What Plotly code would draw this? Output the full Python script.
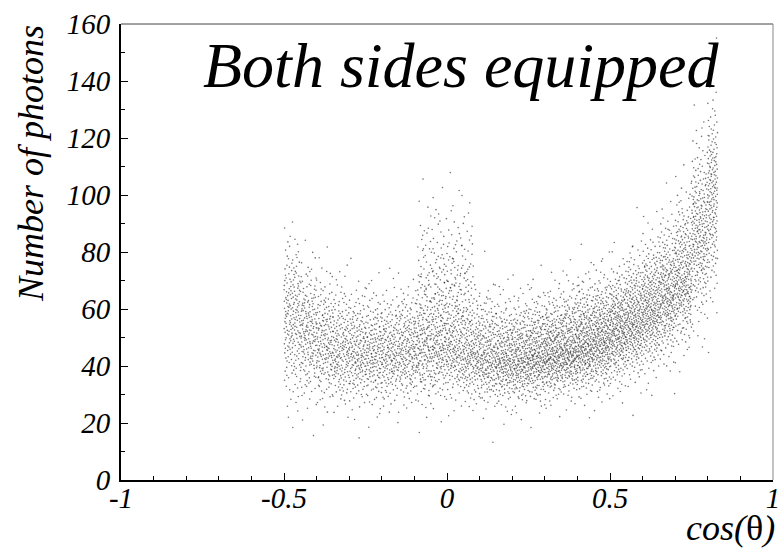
import statistics
import plotly.graph_objects as go

# Per-bin profile of the photon-count band versus cos(theta):
# bin edges, number of events, and the 5% / 50% / 95% levels of the photon count.
BIN_LO = [-0.50, -0.45, -0.40, -0.35, -0.30, -0.25, -0.20, -0.15, -0.10, -0.05,
          0.00, 0.05, 0.10, 0.15, 0.20, 0.25, 0.30, 0.35, 0.40, 0.45,
          0.50, 0.55, 0.60, 0.65, 0.70, 0.75, 0.80]
BIN_HI = [-0.45, -0.40, -0.35, -0.30, -0.25, -0.20, -0.15, -0.10, -0.05, 0.00,
          0.05, 0.10, 0.15, 0.20, 0.25, 0.30, 0.35, 0.40, 0.45, 0.50,
          0.55, 0.60, 0.65, 0.70, 0.75, 0.80, 0.83]
COUNTS = [190, 180, 175, 170, 170, 170, 170, 175, 180, 185,
          185, 190, 200, 210, 225, 240, 255, 265, 270, 270,
          270, 270, 270, 265, 265, 255, 170]
Y_LO = [33, 32, 31, 30, 30, 30, 30, 31, 31, 32,
        32, 31, 30, 30, 30, 31, 32, 33, 34, 35,
        37, 40, 43, 47, 52, 62, 70]
Y_MED = [57, 52, 48, 46, 45, 45, 45, 46, 47, 48,
         47, 45, 44, 43, 43, 44, 45, 46, 48, 50,
         53, 56, 60, 65, 71, 86, 100]
Y_HI = [80, 72, 68, 65, 63, 62, 62, 63, 65, 68,
        67, 64, 62, 60, 60, 61, 62, 64, 66, 68,
        70, 75, 80, 86, 95, 112, 128]

# Secondary population forming the bump near cos(theta) = 0
BUMP_LO, BUMP_HI = -0.09, 0.08
BUMP_COUNT = 170
BUMP_Y = (58, 75, 97)

X_TICKS = [-1, -0.5, 0, 0.5, 1]
X_TICK_TEXT = ["-1", "-0.5", "0", "0.5", "1"]
Y_TICKS = [0, 20, 40, 60, 80, 100, 120, 140, 160]

ND = statistics.NormalDist()


def halton(i, base):
    f, r = 1.0, 0.0
    while i > 0:
        f /= base
        r += f * (i % base)
        i //= base
    return r


def fill_bin(lo, hi, n, ylo, ymed, yhi, start):
    xs, ys = [], []
    for k in range(n):
        i = start + k + 1
        u = halton(i, 2)
        v = min(max(halton(i, 3), 1e-4), 1 - 1e-4)
        z = ND.inv_cdf(v) / 1.645
        y = ymed + z * ((yhi - ymed) if z > 0 else (ymed - ylo))
        xs.append(lo + u * (hi - lo))
        ys.append(y)
    return xs, ys


xs, ys = [], []
idx = 0
for lo, hi, n, a, m, b in zip(BIN_LO, BIN_HI, COUNTS, Y_LO, Y_MED, Y_HI):
    bx, by = fill_bin(lo, hi, n, a, m, b, idx)
    xs += bx
    ys += by
    idx += n
bx, by = fill_bin(BUMP_LO, BUMP_HI, BUMP_COUNT, *BUMP_Y, idx)
xs += bx
ys += by

SERIF = "Liberation Serif"

fig = go.Figure()
fig.add_trace(go.Scatter(
    x=xs, y=ys, mode="markers",
    marker=dict(size=1.6, color="rgba(0,0,0,0.55)", line=dict(width=0)),
    hoverinfo="skip", showlegend=False,
))

fig.update_layout(
    width=783, height=551,
    margin=dict(l=121, r=3, t=24, b=71),
    paper_bgcolor="white", plot_bgcolor="white",
    font=dict(family=SERIF, color="black"),
    xaxis=dict(
        range=[-1, 1], tickvals=X_TICKS, ticktext=X_TICK_TEXT,
        ticks="inside", ticklen=7, tickwidth=1, tickcolor="black",
        minor=dict(dtick=0.1, tick0=0, ticks="inside", ticklen=4, tickcolor="black"),
        showgrid=False, zeroline=False,
        showline=True, linewidth=2, linecolor="black",
        tickfont=dict(family=SERIF, size=29, style="italic"),
        ticklabelstandoff=-9, ticklabeloverflow="allow",
    ),
    yaxis=dict(
        range=[0, 160], tickvals=Y_TICKS,
        ticks="inside", ticklen=7, tickwidth=1, tickcolor="black",
        minor=dict(dtick=10, tick0=0, ticks="inside", ticklen=4, tickcolor="black"),
        showgrid=False, zeroline=False,
        showline=True, linewidth=2, linecolor="black",
        tickfont=dict(family=SERIF, size=29, style="italic"),
        ticklabelstandoff=3, ticklabeloverflow="allow",
    ),
    shapes=[
        dict(type="line", xref="paper", yref="paper", x0=0, x1=1, y0=1, y1=1,
             line=dict(color="#444", width=1)),
        dict(type="line", xref="paper", yref="paper", x0=1, x1=1, y0=0, y1=1,
             line=dict(color="#888", width=1)),
    ],
    annotations=[
        dict(text="Both sides equipped", xref="paper", yref="paper",
             x=0.521, y=0.908, xanchor="center", yanchor="middle", showarrow=False,
             font=dict(family=SERIF, size=64, style="italic")),
        dict(text="Number of photons", xref="paper", yref="paper",
             x=-0.138, y=0.693, xanchor="center", yanchor="middle",
             textangle=-90, showarrow=False,
             font=dict(family=SERIF, size=36, style="italic")),
        dict(text="<i>cos(</i>θ<i>)</i>", xref="paper", yref="paper",
             x=1.0, y=-0.106, xanchor="right", yanchor="middle", xshift=4,
             showarrow=False, font=dict(family=SERIF, size=36)),
    ],
)

fig.write_html("out.html")
